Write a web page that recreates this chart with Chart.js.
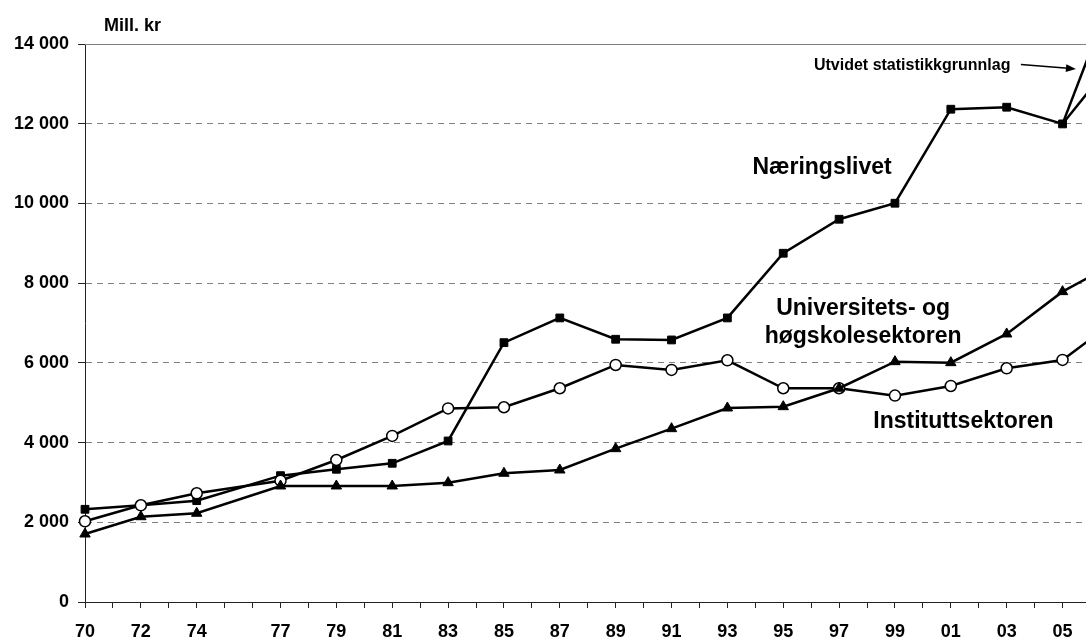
<!DOCTYPE html>
<html>
<head>
<meta charset="utf-8">
<script src="https://cdn.jsdelivr.net/npm/chart.js@4.4.1/dist/chart.umd.min.js"></script>
<style>
  html, body { margin: 0; padding: 0; background: #fff; overflow: hidden; }
  #wrap { width: 1086px; height: 639px; }
</style>
</head>
<body>
<div id="wrap"><canvas id="rdChart" width="1086" height="639"></canvas></div>
<script>
// --- data (mill. kr) ---
const years = [1970, 1972, 1974, 1977, 1979, 1981, 1983, 1985, 1987, 1989, 1991, 1993, 1995, 1997, 1999, 2001, 2003, 2005, 2007];
const yearLabels = ['70', '72', '74', '77', '79', '81', '83', '85', '87', '89', '91', '93', '95', '97', '99', '01', '03', '05', '07'];
const naeringslivet = [2326, 2427, 2543, 3170, 3330, 3480, 4040, 6507, 7127, 6592, 6575, 7127, 8750, 9603, 10005, 12364, 12414, 11995, 13743];
const instituttsektoren = [2025, 2427, 2728, 3044, 3563, 4166, 4856, 4886, 5363, 5947, 5822, 6065, 5363, 5363, 5178, 5420, 5864, 6073, 7119];
const uohSektoren = [1706, 2140, 2226, 2911, 2911, 2911, 2994, 3230, 3312, 3847, 4349, 4868, 4901, 5363, 6030, 6005, 6725, 7787, 8552];
// extended statistical base for the business sector
const utvidetYears = [2005, 2007];
const utvidetValues = [11995, 15647];
const yTicks = [0, 2000, 4000, 6000, 8000, 10000, 12000, 14000];

const FONT = '"Liberation Sans", Arial, sans-serif';

function pts(xs, ys) {
    return xs.map((x, i) => ({ x: x, y: ys[i] }));
}

function fmt(v) {
    return String(v).replace(/\B(?=(\d{3})+(?!\d))/g, ' ');
}

// text labels and arrow placed in data units
const annotations = {
    id: 'annotations',
    afterDatasetsDraw(chart) {
        const { ctx, chartArea, scales: { x, y } } = chart;
        ctx.save();

        // solid top border of the plot area
        ctx.strokeStyle = '#808080';
        ctx.lineWidth = 1;
        ctx.beginPath();
        const yt = Math.round(y.getPixelForValue(14000)) + 0.5;
        ctx.moveTo(chartArea.left, yt);
        ctx.lineTo(chartArea.right, yt);
        ctx.stroke();

        ctx.fillStyle = '#000';
        ctx.textBaseline = 'middle';

        ctx.font = 'bold 18px ' + FONT;
        ctx.textAlign = 'left';
        ctx.fillText('Mill. kr', chartArea.left + 19, chartArea.top - 18);

        ctx.font = 'bold 23px ' + FONT;
        ctx.textAlign = 'center';
        ctx.fillText('Næringslivet', x.getPixelForValue(1996.39), y.getPixelForValue(10890));
        ctx.fillText('Universitets- og', x.getPixelForValue(1997.86), y.getPixelForValue(7351));
        ctx.fillText('høgskolesektoren', x.getPixelForValue(1997.86), y.getPixelForValue(6656));
        ctx.fillText('Instituttsektoren', x.getPixelForValue(2001.45), y.getPixelForValue(4524));

        ctx.font = 'bold 16px ' + FONT;
        ctx.textAlign = 'left';
        ctx.fillText('Utvidet statistikkgrunnlag', x.getPixelForValue(1996.1), y.getPixelForValue(13449));

        // arrow
        const x1 = x.getPixelForValue(2003.51), y1 = y.getPixelForValue(13487);
        const x2 = x.getPixelForValue(2005.48), y2 = y.getPixelForValue(13374);
        const a = Math.atan2(y2 - y1, x2 - x1);
        ctx.strokeStyle = '#000';
        ctx.lineWidth = 1.5;
        ctx.beginPath();
        ctx.moveTo(x1, y1);
        ctx.lineTo(x2 - 8 * Math.cos(a), y2 - 8 * Math.sin(a));
        ctx.stroke();
        ctx.beginPath();
        ctx.moveTo(x2, y2);
        ctx.lineTo(x2 - 10 * Math.cos(a) + 4 * Math.sin(a), y2 - 10 * Math.sin(a) - 4 * Math.cos(a));
        ctx.lineTo(x2 - 10 * Math.cos(a) - 4 * Math.sin(a), y2 - 10 * Math.sin(a) + 4 * Math.cos(a));
        ctx.closePath();
        ctx.fill();

        ctx.restore();
    }
};

const lineBase = {
    borderColor: '#000',
    borderWidth: 2.5,
    tension: 0,
    clip: false,
    spanGaps: true
};

new Chart(document.getElementById('rdChart'), {
    type: 'line',
    data: {
        datasets: [
            Object.assign({}, lineBase, {
                label: 'Næringslivet, utvidet',
                data: pts(utvidetYears, utvidetValues),
                pointRadius: 0
            }),
            Object.assign({}, lineBase, {
                label: 'Universitets- og høgskolesektoren',
                data: pts(years, uohSektoren),
                pointStyle: 'triangle',
                pointRadius: 6,
                pointBackgroundColor: '#000',
                pointBorderColor: '#000',
                pointBorderWidth: 1
            }),
            Object.assign({}, lineBase, {
                label: 'Instituttsektoren',
                data: pts(years, instituttsektoren),
                pointStyle: 'circle',
                pointRadius: 5.5,
                pointBackgroundColor: '#fff',
                pointBorderColor: '#000',
                pointBorderWidth: 1.5
            }),
            Object.assign({}, lineBase, {
                label: 'Næringslivet',
                data: pts(years, naeringslivet),
                pointStyle: 'rect',
                pointRadius: 5.5,
                pointBackgroundColor: '#000',
                pointBorderColor: '#000',
                pointBorderWidth: 1
            })
        ]
    },
    options: {
        responsive: false,
        animation: false,
        devicePixelRatio: 1,
        layout: { autoPadding: false, padding: { top: 44, right: 0, bottom: 0, left: 0 } },
        plugins: { legend: { display: false }, tooltip: { enabled: false }, title: { display: false } },
        scales: {
            x: {
                type: 'linear',
                min: 1970,
                max: 2005.84,
                afterBuildTicks: (scale) => {
                    const t = [];
                    for (let yr = 1970; yr <= 2005; yr++) t.push({ value: yr });
                    scale.ticks = t;
                },
                afterFit: (scale) => { scale.height = 37; },
                grid: { display: true, drawOnChartArea: false, drawTicks: true, tickLength: 6, tickColor: '#222', tickWidth: 1 },
                border: { display: true, color: '#222', width: 1 },
                ticks: {
                    autoSkip: false,
                    maxRotation: 0,
                    padding: 13,
                    color: '#000',
                    font: { family: FONT, size: 18, weight: 'bold' },
                    callback: (v) => {
                        const i = years.indexOf(v);
                        return i >= 0 ? yearLabels[i] : '';
                    }
                }
            },
            y: {
                min: 0,
                max: 14000,
                afterBuildTicks: (scale) => { scale.ticks = yTicks.map(v => ({ value: v })); },
                afterFit: (scale) => { scale.width = 85; },
                grid: {
                    color: (c) => (c.tick && c.tick.value === 0) ? 'rgba(0,0,0,0)' : '#808080',
                    lineWidth: 1,
                    drawTicks: true,
                    tickLength: 7,
                    tickColor: '#222',
                    tickWidth: 1
                },
                border: { display: true, color: '#222', width: 1, dash: [6, 5] },
                ticks: {
                    padding: 9,
                    color: '#000',
                    font: { family: FONT, size: 18, weight: 'bold' },
                    callback: (v) => fmt(v)
                }
            }
        }
    },
    plugins: [annotations]
});
</script>
</body>
</html>
